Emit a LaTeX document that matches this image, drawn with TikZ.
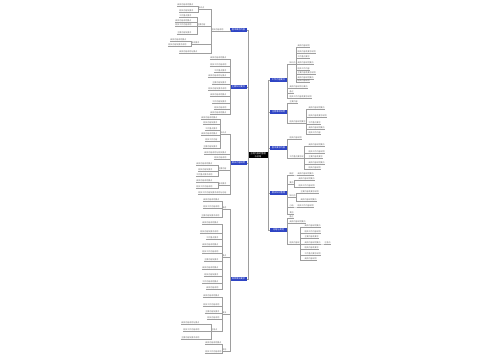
\documentclass[tikz,border=0pt]{standalone}
\usepackage{fontspec}
\usepackage{xcolor}
\usepackage{tikz}
\newfontfamily\cjk{Noto Sans CJK SC}
\definecolor{mmblue}{RGB}{46,68,196}
\tikzset{link/.style={draw=black!38, line width=0.3pt},
root/.style={fill=black, text=white, font=\cjk\fontsize{2.2}{2.6}\selectfont, align=center, minimum width=20pt, minimum height=6pt, inner sep=0.3pt},
branch/.style={fill=mmblue, text=white, font=\cjk\fontsize{2.2}{2.6}\selectfont, minimum width=17pt, minimum height=3.6pt, inner sep=0.3pt},
leaf/.style={text=black!60, font=\cjk\fontsize{2}{2.4}\selectfont, inner sep=0.4pt,
 append after command={(\tikzlastnode.south west) edge[link] (\tikzlastnode.south east)}},
leafL/.style={leaf, anchor=east},
leafR/.style={leaf, anchor=west}}

\begin{document}
\begin{tikzpicture}[x=1pt,y=-1pt]
 \useasboundingbox (0,0) rectangle (500,360);

 %Drawing root and main branches
 \node[root] (root) at (258,155) {主题内容的整理\\与总结};
 \node[branch] (L1) at (238.5,30) {基本概念内容};
 \node[branch] (L2) at (238.5,87) {主要知识要点};
 \node[branch] (L3) at (238.5,163) {相关内容说明};
 \node[branch] (L4) at (238.5,279) {具体做法要求};
 \node[branch] (R1) at (278.5,80) {工作内容要点};
 \node[branch] (R2) at (278.5,112) {注意事项说明};
 \node[branch] (R3) at (278.5,148) {基本要求内容};
 \node[branch] (R4) at (278.5,193) {相关知识整理};
 \node[branch] (R5) at (278.5,230) {总结与其他};
 \foreach \b in {L1,L2,L3,L4} \draw[link] (\b.east) -| (root.west);
 \foreach \b in {R1,R2,R3,R4,R5} \draw[link] (root.east) |- (\b.west);

 %Left branch 1
 \node[leafL] (a1) at (224,30) {相关内容说明};
 \draw[link] (a1.south east) -| (L1.west);
 \node[leafL] (a11) at (205,8) {知识点};
 \node[leafL] (a12) at (206,25) {主要内容};
 \node[leafL] (a13) at (200,43) {基本要求};
 \node[leafL] (a14) at (198,52) {具体内容说明与要点};
 \foreach \n in {a11,a12,a13,a14} \draw[link] (\n.south east) -| (a1.south west);
 \foreach \y/\t [count=\i] in {5/具体内容说明要点,11/相关内容及要求}{
  \node[leafL] (a11-\i) at (194,\y) {\t};
  \draw[link] (a11-\i.south east) -| (a11.south west);}
 \foreach \y/\t [count=\i] in {16/工作重点要求,21/具体内容说明要点,25/相关工作内容说明,33/主要内容及要求}{
  \node[leafL] (a12-\i) at (192,\y) {\t};
  \draw[link] (a12-\i.south east) -| (a12.south west);}
 \foreach \y/\t [count=\i] in {40/具体内容说明要点,45/相关内容及要求说明}{
  \node[leafL] (a13-\i) at (187,\y) {\t};
  \draw[link] (a13-\i.south east) -| (a13.south west);}

 %Left branch 2
 \foreach \y/\t [count=\i] in {58/具体内容说明要点,65/相关工作内容说明,71/工作重点要求,76/具体内容说明与要点,83/主要内容及要求,89/相关内容及要求说明,95/具体内容说明要点,102/工作内容及要求,108/相关内容说明,113/具体内容说明要点}{
  \node[leafL] (b-\i) at (227,\y) {\t};
  \draw[link] (b-\i.south east) -| (L2.west);}

 %Left branch 3
 \node[leafL] (c1) at (227,133) {知识点};
 \node[leafL] (c2) at (227,153) {具体内容说明与相关要点};
 \node[leafL] (c3) at (227,158) {相关内容说明};
 \node[leafL] (c4) at (227,169) {主要内容};
 \node[leafL] (c5) at (227,184) {基本要求};
 \node[leafL] (c6) at (227,193) {相关工作内容及要求说明与总结};
 \foreach \n in {c1,c2,c3,c4,c5,c6} \draw[link] (\n.south east) -| (L3.west);
 \foreach \y/\t [count=\i] in {118/具体内容说明要点,123/相关内容及要求,129/工作重点要求,134/具体内容说明要点,140/相关工作内容,147/主要内容及要求}{
  \node[leafL] (c1-\i) at (218,\y) {\t};
  \draw[link] (c1-\i.south east) -| (c1.south west);}
 \foreach \y/\t [count=\i] in {164/具体内容说明要点,170/相关内容及要求,175/工作重点要求说明}{
  \node[leafL] (c4-\i) at (213,\y) {\t};
  \draw[link] (c4-\i.south east) -| (c4.south west);}
 \foreach \y/\t [count=\i] in {181/具体内容说明要点,187/相关工作内容说明}{
  \node[leafL] (c5-\i) at (213,\y) {\t};
  \draw[link] (c5-\i.south east) -| (c5.south west);}

 %Left branch 4
 \node[leafL] (d1) at (227,208) {概述};
 \node[leafL] (d2) at (227,256) {要点};
 \node[leafL] (d3) at (227,313) {做法};
 \node[leafL] (d4) at (227,350) {其他};
 \foreach \n in {d1,d2,d3,d4} \draw[link] (\n.south east) -| (L4.west);
 \foreach \y/\t [count=\i] in {200/具体内容说明要点,207/相关工作内容说明,216/主要内容及要求说明}{
  \node[leafL] (d1-\i) at (220,\y) {\t};
  \draw[link] (d1-\i.south east) -| (d1.south west);}
 \foreach \y/\t [count=\i] in {223/具体内容说明要点,232/相关内容及要求说明,238/工作重点要求,245/具体内容说明要点,252/相关工作内容说明,260/主要内容及要求,268/具体内容说明要点,275/相关内容及要求,282/工作内容说明要点,288/具体内容说明}{
  \node[leafL] (d2-\i) at (219,\y) {\t};
  \draw[link] (d2-\i.south east) -| (d2.south west);}
 \foreach \y/\t [count=\i] in {296/具体内容说明要点,305/相关工作内容说明,312/主要内容及要求,318/相关内容说明}{
  \node[leafL] (d3-\i) at (220,\y) {\t};
  \draw[link] (d3-\i.south east) -| (d3.south west);}
 \node[leafL] (d31) at (218,330) {注意点};
 \draw[link] (d31.south east) -| (d3.south west);
 \foreach \y/\t [count=\i] in {323/具体内容说明与要点,330/相关工作内容说明,338/主要内容及要求说明}{
  \node[leafL] (d31-\i) at (200,\y) {\t};
  \draw[link] (d31-\i.south east) -| (d31.south west);}
 \foreach \y/\t [count=\i] in {343/具体内容说明要点,352/相关工作内容说明}{
  \node[leafL] (d4-\i) at (222,\y) {\t};
  \draw[link] (d4-\i.south east) -| (d4.south west);}

 %Right branch 1
 \node[leafR] (e1) at (289,63) {知识点};
 \node[leafR] (e2) at (289,87) {具体内容说明与要点};
 \node[leafR] (e3) at (289,92) {备注};
 \node[leafR] (e4) at (289,97) {相关工作内容及要求说明};
 \foreach \n in {e1,e2,e3,e4} \draw[link] (R1.east) |- (\n.south west);
 \foreach \y/\t [count=\i] in {46/具体内容说明,52/相关内容及要求说明,57/工作重点要求,63/具体内容说明要点,69/相关工作内容,73/主要内容及要求说明,78/具体内容说明要点,81/相关内容说明}{
  \node[leafR] (e1-\i) at (297,\y) {\t};
  \draw[link] (e1.south east) |- (e1-\i.south west);}

 %Right branch 2
 \node[leafR] (f1) at (289,102) {主要内容};
 \node[leafR] (f2) at (289,122) {相关内容说明要求};
 \foreach \n in {f1,f2} \draw[link] (R2.east) |- (\n.south west);
 \foreach \y/\t [count=\i] in {108/具体内容说明要点,116/相关内容及要求说明,123/工作重点要求,128/具体内容说明要点,133/相关工作内容}{
  \node[leafR] (f2-\i) at (308,\y) {\t};
  \draw[link] (f2.south east) |- (f2-\i.south west);}

 %Right branch 3
 \node[leafR] (g1) at (289,138) {相关内容说明};
 \node[leafR] (g2) at (289,157) {工作重点要求说};
 \foreach \n in {g1,g2} \draw[link] (R3.east) |- (\n.south west);
 \foreach \y/\t [count=\i] in {145/具体内容说明要点,152/相关工作内容说明,157/主要内容及要求,163/具体内容说明要点,168/相关内容说明}{
  \node[leafR] (g2-\i) at (308,\y) {\t};
  \draw[link] (g2.south east) |- (g2-\i.south west);}

 %Right branch 4
 \node[leafR] (h1) at (289,174) {概述};
 \node[leafR] (h2) at (289,183) {要点};
 \node[leafR] (h3) at (289,196) {知识点};
 \node[leafR] (h4) at (289,206) {小结};
 \node[leafR] (h5) at (289,213) {其他};
 \foreach \n in {h1,h2,h3,h4,h5} \draw[link] (R4.east) |- (\n.south west);
 \node[leafR] (h1-1) at (297,174) {具体内容说明要点};
 \draw[link] (h1.south east) -- (h1-1.south west);
 \foreach \y/\t [count=\i] in {179/具体内容说明要点,186/相关工作内容说明}{
  \node[leafR] (h2-\i) at (298,\y) {\t};
  \draw[link] (h2.south east) |- (h2-\i.south west);}
 \foreach \y/\t [count=\i] in {192/主要内容及要求说明,200/具体内容说明要点}{
  \node[leafR] (h3-\i) at (300,\y) {\t};
  \draw[link] (h3.south east) |- (h3-\i.south west);}
 \node[leafR] (h4-1) at (297,206) {相关工作内容说明};
 \draw[link] (h4.south east) -- (h4-1.south west);

 %Right branch 5
 \node[leafR] (i1) at (289,217) {备注};
 \node[leafR] (i2) at (289,222) {具体内容说明要点};
 \node[leafR] (i3) at (289,243) {相关内容说};
 \foreach \n in {i1,i2,i3} \draw[link] (R5.east) |- (\n.south west);
 \foreach \y/\t [count=\i] in {226/具体内容说明要点,232/相关工作内容说明,237/主要内容及要求,243/具体内容说明要点,248/相关内容及要求,254/工作重点要求说明,259/具体内容说明}{
  \node[leafR] (i3-\i) at (304,\y) {\t};
  \draw[link] (i3.south east) |- (i3-\i.south west);}
 \node[leafR] (i3-4-1) at (324,243) {注意点};
 \draw[link] (i3-4.south east) -- (i3-4-1.south west);

\end{tikzpicture}
\end{document}
